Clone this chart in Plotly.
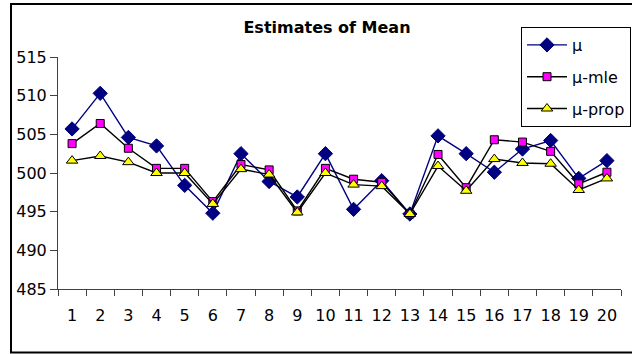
import plotly.graph_objects as go

categories = list(range(1, 21))
mu = [505.7, 510.3, 504.6, 503.5, 498.4, 494.8, 502.5, 498.9, 496.9, 502.5,
      495.3, 499.0, 494.7, 504.8, 502.5, 500.1, 503.1, 504.2, 499.3, 501.6]
mu_mle = [503.8, 506.4, 503.2, 500.6, 500.6, 496.3, 501.1, 500.4, 495.1, 500.6,
          499.2, 498.8, 494.7, 502.4, 498.1, 504.3, 504.0, 502.8, 498.6, 500.1]
mu_prop = [501.6, 502.2, 501.4, 500.0, 500.0, 496.0, 500.5, 499.8, 494.9, 500.0,
           498.5, 498.3, 494.7, 500.9, 497.7, 501.8, 501.3, 501.2, 497.8, 499.3]
y_ticks = [485, 490, 495, 500, 505, 510, 515]

W, H = 632, 354
L, R, T, B = 58, 621, 57, 289  # plot area in px

def px_x(px):
    return (px - L) / (R - L)

def px_y(py):
    return (B - py) / (B - T)

FONT = "DejaVu Sans, Liberation Sans, Arial, sans-serif"

fig = go.Figure()
fig.add_trace(go.Scatter(
    x=categories, y=mu, name="μ", mode="lines+markers", legendgroup="a",
    line=dict(color="#000080", width=1.4),
    marker=dict(symbol="diamond", size=11, color="#000080", line=dict(color="#000080", width=1)),
))
fig.add_trace(go.Scatter(
    x=categories, y=mu_mle, name="μ-mle", mode="lines+markers", legendgroup="b",
    line=dict(color="#000000", width=1.4),
    marker=dict(symbol="square", size=8, color="#FF00FF", line=dict(color="#000000", width=1)),
))
fig.add_trace(go.Scatter(
    x=categories, y=mu_prop, name="μ-prop", mode="lines+markers", legendgroup="c",
    line=dict(color="#000000", width=1.4),
    marker=dict(symbol="triangle-up", size=10, color="#FFFF00", line=dict(color="#000000", width=1)),
))

fig.update_layout(
    width=W, height=H,
    margin=dict(l=L, r=W - R, t=T, b=H - B, autoexpand=False),
    paper_bgcolor="white", plot_bgcolor="white",
    font=dict(family=FONT, size=16, color="#000000"),
    title=dict(text="<b>Estimates of Mean</b>", font=dict(size=16, family=FONT, color="#000000"),
               x=327 / W, xref="container", xanchor="center",
               y=1 - 27 / H, yref="container", yanchor="middle"),
    showlegend=True,
    legend=dict(x=px_x(521), y=px_y(27), xanchor="left", yanchor="top",
                bgcolor="white", bordercolor="#000000", borderwidth=1,
                font=dict(size=16, family=FONT), tracegroupgap=8,
                itemwidth=40),
    xaxis=dict(range=[0.5, 20.5], tickmode="array", tickvals=categories,
               ticktext=[str(c) for c in categories], ticks="", showgrid=False,
               showline=True, linecolor="#404040", linewidth=1, zeroline=False,
               ticklabelstandoff=12,
               minor=dict(ticks="outside", tick0=0.5, dtick=1, ticklen=6,
                          tickcolor="#404040", showgrid=False)),
    yaxis=dict(range=[485, 515], tickmode="array", tickvals=y_ticks,
               ticks="outside", ticklen=7, tickcolor="#404040", showgrid=False,
               showline=True, linecolor="#404040", linewidth=1, zeroline=False),
    shapes=[dict(type="rect", xref="paper", yref="paper",
                 x0=px_x(11), x1=px_x(645), y0=px_y(352.5), y1=px_y(4),
                 line=dict(color="#000000", width=2), fillcolor="rgba(0,0,0,0)", layer="below")],
)

fig.write_html("out.html")
